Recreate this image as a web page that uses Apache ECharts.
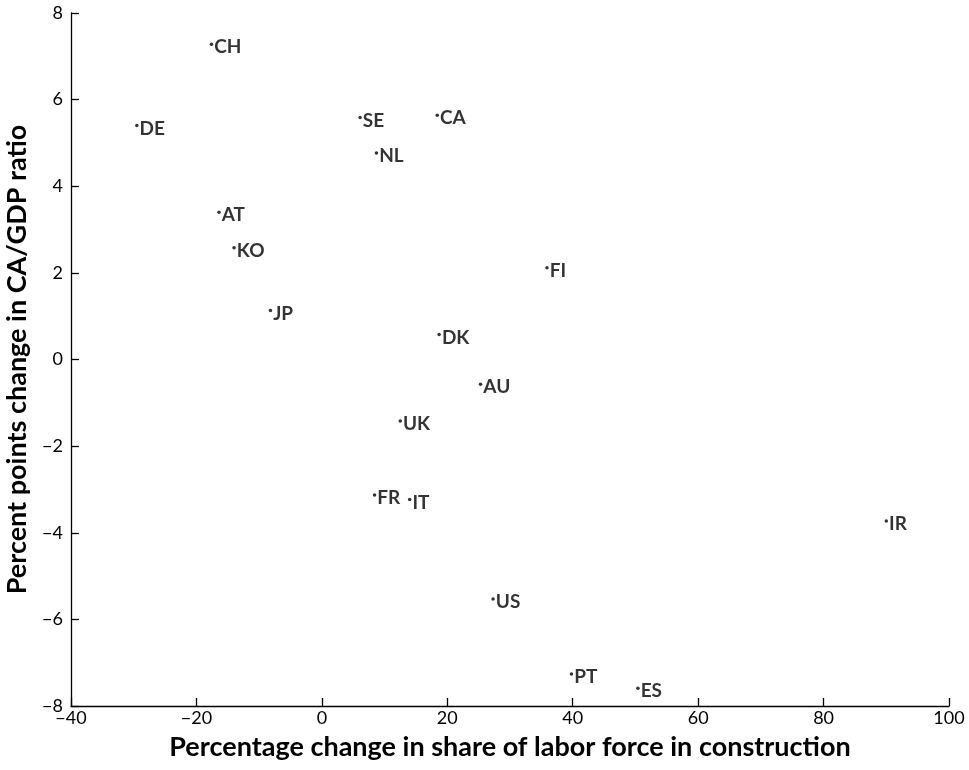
<!DOCTYPE html>
<html>
<head>
<meta charset="utf-8">
<script src="https://cdn.jsdelivr.net/npm/echarts@6/dist/echarts.min.js"></script>
<style>
  html, body { margin: 0; padding: 0; background: #fff; }
  #chart { width: 969px; height: 770px; }
</style>
</head>
<body>
<div id="chart"></div>
<script>
// country codes and their values
var countries = ["CH", "DE", "SE", "CA", "NL", "AT", "KO", "FI", "JP", "DK", "AU", "UK", "FR", "IT", "IR", "US", "PT", "ES"];
var laborShareChange = [-17.6, -29.5, 6.1, 18.4, 8.7, -16.4, -14.0, 35.9, -8.2, 18.7, 25.3, 12.5, 8.4, 14.0, 90.0, 27.3, 39.8, 50.4];
var caGdpChange = [7.28, 5.40, 5.59, 5.64, 4.77, 3.40, 2.58, 2.12, 1.13, 0.58, -0.57, -1.42, -3.13, -3.23, -3.73, -5.53, -7.26, -7.59];

var xTicks = { min: -40, max: 100, interval: 20 };
var yTicks = { min: -8, max: 8, interval: 2 };

var points = countries.map(function (c, i) {
  return { name: c, value: [laborShareChange[i], caGdpChange[i]] };
});

var fontFamily = "Lato, 'Open Sans', sans-serif";

var chart = echarts.init(document.getElementById("chart"), null, { renderer: "canvas" });

var axisCommon = {
  type: "value",
  splitLine: { show: false },
  axisLine: { show: true, onZero: false, lineStyle: { color: "#000", width: 1.3 } },
  axisTick: { show: true, inside: true, length: 8, lineStyle: { color: "#000", width: 1.3 } },
  axisLabel: { color: "#000", fontSize: 18, fontFamily: fontFamily },
  nameLocation: "middle",
  nameTextStyle: { color: "#000", fontSize: 27, fontWeight: "bold", fontFamily: fontFamily }
};

chart.setOption({
  animation: false,
  backgroundColor: "#fff",
  grid: {
    left: 71,
    right: 20,
    top: 13,
    bottom: 64,
    containLabel: false,
    outerBoundsMode: "none"
  },
  xAxis: Object.assign({}, axisCommon, {
    min: xTicks.min,
    max: xTicks.max,
    interval: xTicks.interval,
    name: "Percentage change in share of labor force in construction",
    nameGap: 28,
    axisLabel: Object.assign({}, axisCommon.axisLabel, {
      margin: 3,
      formatter: function (v) { return String(v).replace("-", "\u2212"); }
    })
  }),
  yAxis: Object.assign({}, axisCommon, {
    min: yTicks.min,
    max: yTicks.max,
    interval: yTicks.interval,
    name: "Percent points change in CA/GDP ratio",
    nameGap: 28,
    axisLabel: Object.assign({}, axisCommon.axisLabel, {
      margin: 8,
      formatter: function (v) { return String(v).replace("-", "\u2212"); }
    })
  }),
  series: [
    {
      type: "scatter",
      data: points,
      symbol: "circle",
      symbolSize: 3.5,
      itemStyle: { color: "#000" },
      label: {
        show: true,
        position: "right",
        distance: 1,
        offset: [0, 3],
        formatter: "{b}",
        color: "#000",
        fontSize: 19,
        fontWeight: "bold",
        fontFamily: fontFamily
      }
    }
  ]
});
</script>
</body>
</html>
